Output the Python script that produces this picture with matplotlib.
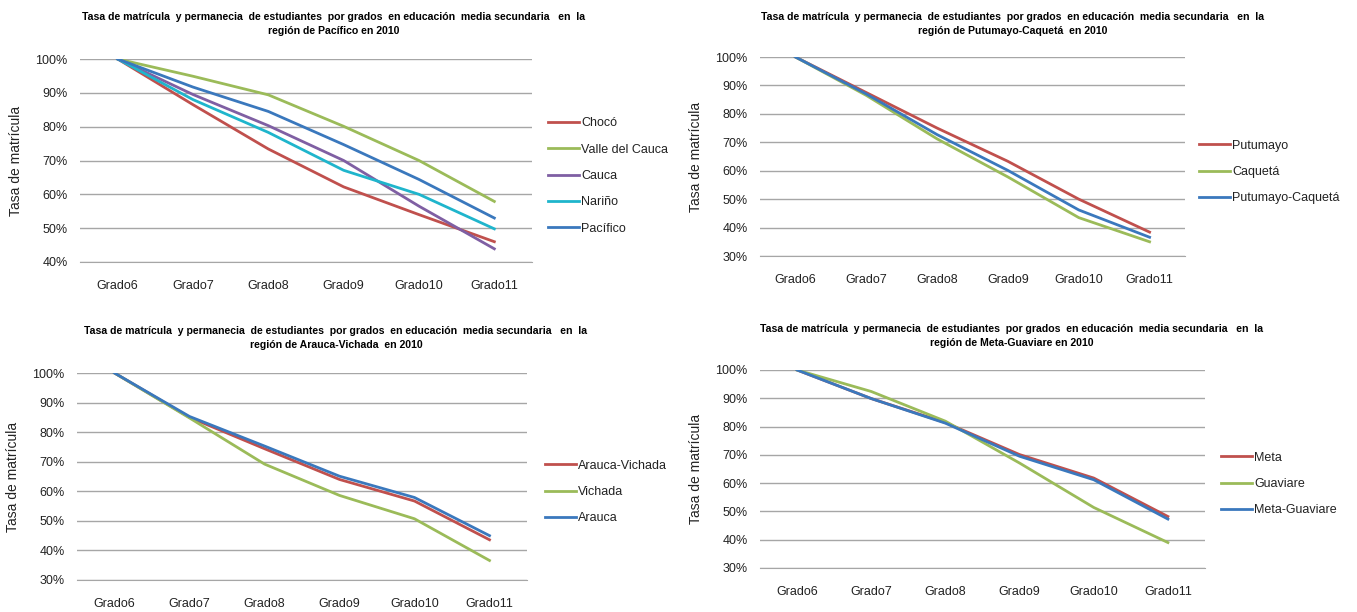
import matplotlib
matplotlib.use("Agg")
from matplotlib import pyplot as plt
from matplotlib.ticker import PercentFormatter

grados = ["Grado6", "Grado7", "Grado8", "Grado9", "Grado10", "Grado11"]

# Pacifico
choco = [100, 86.5, 73.4, 62.2, 54.0, 46.0]
valle = [100, 94.9, 89.4, 80.1, 70.0, 57.9]
cauca = [100, 89.5, 80.3, 70.0, 56.5, 43.9]
narino = [100, 88.0, 78.3, 67.1, 60.0, 49.8]
pacifico = [100, 91.7, 84.5, 74.7, 64.4, 53.0]

# Putumayo-Caqueta
putumayo = [100, 87.5, 75.0, 63.3, 50.0, 38.4]
caqueta = [100, 86.5, 71.2, 57.8, 43.5, 35.0]
put_caq = [100, 87.0, 72.7, 60.1, 46.2, 36.6]

# Arauca-Vichada
arauca_vichada = [100, 85.0, 74.4, 64.0, 56.7, 43.6]
vichada = [100, 84.8, 69.2, 58.6, 50.7, 36.6]
arauca = [100, 85.3, 75.3, 65.1, 57.9, 45.0]

# Meta-Guaviare
meta = [100, 89.9, 81.4, 70.1, 61.8, 48.2]
guaviare = [100, 92.4, 81.9, 67.1, 51.4, 39.0]
meta_guav = [100, 89.9, 81.2, 69.5, 61.2, 47.3]

RED = "#C0504D"
GREEN = "#9BBB59"
PURPLE = "#7F5FA3"
CYAN = "#1FB5CC"
BLUE = "#3A78BD"

W, H = 1357, 612
fig = plt.figure(figsize=(W / 100, H / 100), dpi=100)

fam = ["Liberation Sans", "DejaVu Sans"]


def make_ax(box, ymin, series, title, title_x, title_y, legend_x, legend_y):
    left, right, top, bottom = box
    ax = fig.add_axes([left / W, 1 - bottom / H, (right - left) / W, (bottom - top) / H])
    x = range(len(grados))
    for vals, col, lab in series:
        ax.plot(x, vals, color=col, lw=2.0, label=lab)
    ax.set_xlim(-0.5, 5.5)
    ax.set_ylim(ymin, 100)
    ax.set_yticks(range(ymin, 101, 10))
    ax.yaxis.set_major_formatter(PercentFormatter(decimals=0))
    ax.set_xticks(list(x))
    ax.set_xticklabels(grados, family=fam, fontsize=9)
    for t in ax.get_yticklabels():
        t.set_family(fam)
        t.set_fontsize(9)
    ax.grid(axis="y", color="#A6A6A6", lw=1.0)
    ax.set_axisbelow(True)
    for s in ax.spines.values():
        s.set_visible(False)
    ax.spines["bottom"].set_visible(True)
    ax.spines["bottom"].set_color("#A6A6A6")
    ax.tick_params(length=0, pad=9, colors="#222222")
    ax.tick_params(axis="x", pad=13)
    ax.set_ylabel("Tasa de matrícula", family=fam, fontsize=10, labelpad=9, color="#222222")
    fig.text(title_x / W, 1 - title_y / H, title, ha="center", va="center",
             fontsize=7.6, fontweight="bold", family=fam, linespacing=1.55)
    leg = ax.legend(loc="center left", bbox_to_anchor=(legend_x / W, 1 - legend_y / H),
                    bbox_transform=fig.transFigure, frameon=False, handlelength=2.5,
                    handletextpad=0.15, labelspacing=1.15, borderpad=0, borderaxespad=0,
                    prop={"family": fam, "size": 9})
    for t in leg.get_texts():
        t.set_color("#222222")
    return ax


t1 = "Tasa de matrícula  y permanecia  de estudiantes  por grados  en educación  media secundaria   en  la\nregión de Pacífico en 2010"
t2 = "Tasa de matrícula  y permanecia  de estudiantes  por grados  en educación  media secundaria   en  la\nregión de Putumayo-Caquetá  en 2010"
t3 = "Tasa de matrícula  y permanecia  de estudiantes  por grados  en educación  media secundaria   en  la\nregión de Arauca-Vichada  en 2010"
t4 = "Tasa de matrícula  y permanecia  de estudiantes  por grados  en educación  media secundaria   en  la\nregión de Meta-Guaviare en 2010"

make_ax((80, 532, 59, 262), 40,
        [(choco, RED, "Chocó"), (valle, GREEN, "Valle del Cauca"), (cauca, PURPLE, "Cauca"),
         (narino, CYAN, "Nariño"), (pacifico, BLUE, "Pacífico")],
        t1, 334, 24, 548, 176)
make_ax((760, 1185, 57, 256), 30,
        [(putumayo, RED, "Putumayo"), (caqueta, GREEN, "Caquetá"), (put_caq, BLUE, "Putumayo-Caquetá")],
        t2, 1013, 24, 1199, 172)
make_ax((77, 527, 373, 580), 30,
        [(arauca_vichada, RED, "Arauca-Vichada"), (vichada, GREEN, "Vichada"), (arauca, BLUE, "Arauca")],
        t3, 336, 338, 545, 492)
make_ax((760, 1205, 370, 568), 30,
        [(meta, RED, "Meta"), (guaviare, GREEN, "Guaviare"), (meta_guav, BLUE, "Meta-Guaviare")],
        t4, 1012, 336, 1221, 484)

fig.savefig("out.png", dpi=100)
